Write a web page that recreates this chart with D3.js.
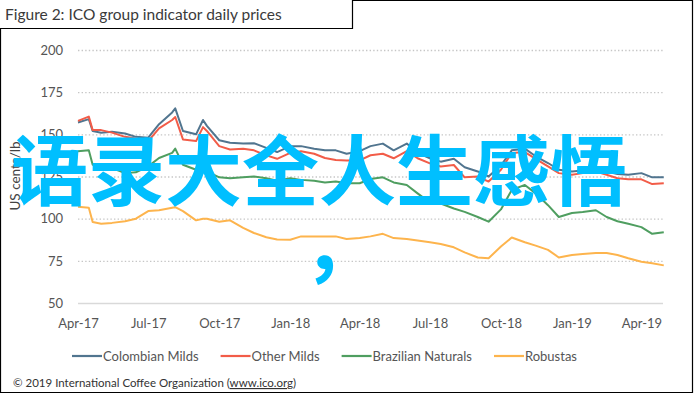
<!DOCTYPE html>
<html>
<head>
<meta charset="utf-8">
<script src="https://cdn.jsdelivr.net/npm/d3@7"></script>
<style>
body { margin: 0; background: #fff; }
svg { display: block; font-family: Lato, "Open Sans", sans-serif; }
</style>
</head>
<body>
<div id="chart"></div>
<script>
// values, US cents/lb
var dates = ["2017-04-01","2017-04-15","2017-04-20","2017-05-01","2017-05-15","2017-06-01","2017-06-15",
    "2017-07-01","2017-07-15","2017-08-01","2017-08-05","2017-08-15","2017-09-01","2017-09-10","2017-09-15",
    "2017-10-01","2017-10-15","2017-11-01","2017-11-15","2017-12-01","2017-12-15","2018-01-01","2018-01-15",
    "2018-02-01","2018-02-15","2018-03-01","2018-03-15","2018-04-01","2018-04-15","2018-05-01","2018-05-15",
    "2018-06-01","2018-06-15","2018-07-01","2018-07-15","2018-08-01","2018-08-15","2018-09-01","2018-09-15",
    "2018-10-01","2018-10-15","2018-11-01","2018-11-15","2018-12-01","2018-12-15","2019-01-01","2019-01-15",
    "2019-02-01","2019-02-15","2019-03-01","2019-03-15","2019-04-01","2019-04-15","2019-04-30"];

var colombian_milds = [157,159,152,151,151.5,150.5,148.5,148,156,163,165.4,152,150,158.5,155,146.5,145,144.5,
    144.7,142,139.5,143,143,141.5,140.5,140.5,138.5,140,143,144.5,140.5,144.5,139,135.8,133.8,135.5,130.5,128,
    125,131.5,140.5,141.5,137,133,129,128,128.5,129,128,126.5,126,127,124.5,124.5];

var other_milds = [158,160.5,152.5,152.5,151,148.5,147.5,146,153.5,158.5,160.3,147,146,154.3,152,143,141,141.5,
    140.5,137.5,135.5,139,140,138.5,136,134.8,134.5,134.6,137.6,138.5,135.8,140,135.8,132.8,130.9,131.8,124.5,125,
    122,129,139,139.5,135.5,131,127,126,127,128,126,124,123.3,123.3,120.5,121];

var brazilian_naturals = [140,140.5,132,131.5,130,127,127.5,131,136,139,141.5,132,129,131,128,124.5,124,124.5,
    125,124,122.5,124,123,122.5,121.5,122,121,121,123.5,124.5,121.5,120,115,109.5,109,106,104,101,98.2,105.5,117,
    120,115,108,101,103.4,104,105,101,98.5,97,95,91,92];

var robustas = [107,106.5,98,97,97.5,98.5,100,104.5,105,106.5,106.8,104.5,99,100,100,98.2,99,94.5,91.5,89,87.7,
    87.5,89.5,89.5,89.5,89.5,88,88.5,89.5,91,88.5,88,87,86,85,83,80,77,76.5,83.5,88.8,86,84,81.5,77,78.5,79,79.7,
    79.7,78.5,76.5,74.5,73.5,72.3];

var series_names = ["Colombian Milds", "Other Milds", "Brazilian Naturals", "Robustas"];
var series_colors = ["#51758f", "#f25c48", "#4f9e60", "#fdb44d"];
var y_ticks = [50, 75, 100, 125, 150, 175, 200];
var x_ticks = ["2017-04-01","2017-07-01","2017-10-01","2018-01-01","2018-04-01","2018-07-01","2018-10-01",
    "2019-01-01","2019-04-01"];

var parse_date = d3.timeParse("%Y-%m-%d");

function draw_chart() {
    var width = 695, height = 394;
    var plot = {left: 78, right: 663, top: 50, bottom: 303};

    var svg = d3.select("#chart").append("svg")
        .attr("width", width)
        .attr("height", height);

    svg.append("rect")
        .attr("width", width)
        .attr("height", height)
        .attr("fill", "#fff");

    // frame round the figure, title sits above its left part
    svg.append("path")
        .attr("d", "M0.5,392.5 L0.5,28.5 L352.5,28.5 L352.5,0.5 L692.5,0.5 L692.5,392.5 Z")
        .attr("fill", "none")
        .attr("stroke", "#000")
        .attr("stroke-width", 1.2);

    svg.append("text")
        .attr("x", 5)
        .attr("y", 20)
        .attr("font-size", 15.5)
        .attr("fill", "#3a3a3a")
        .text("Figure 2: ICO group indicator daily prices");

    var x = d3.scaleTime()
        .domain([parse_date("2017-04-01"), parse_date("2019-04-29")])
        .range([plot.left, plot.right]);

    var y = d3.scaleLinear()
        .domain([50, 200])
        .range([plot.bottom, plot.top]);

    var y_axis = svg.append("g")
        .attr("transform", "translate(" + plot.left + ",0)")
        .call(d3.axisLeft(y)
            .tickValues(y_ticks)
            .tickSize(-(plot.right - plot.left))
            .tickPadding(15));

    y_axis.select(".domain").remove();
    y_axis.selectAll(".tick line")
        .attr("stroke-width", 1.3)
        .attr("stroke-dasharray", function(d) { return d === 50 ? null : "1.4,2.2"; })
        .attr("stroke", function(d) { return d === 50 ? "#d9d9d9" : "#c6c6c6"; });
    y_axis.selectAll(".tick text")
        .attr("font-family", "Lato, sans-serif")
        .attr("font-size", 13)
        .attr("fill", "#555");

    var x_axis = svg.append("g")
        .attr("transform", "translate(0," + plot.bottom + ")")
        .call(d3.axisBottom(x)
            .tickValues(x_ticks.map(parse_date))
            .tickSize(0)
            .tickPadding(16)
            .tickFormat(d3.timeFormat("%b-%y")));

    x_axis.select(".domain").remove();
    x_axis.selectAll(".tick text")
        .attr("font-family", "Lato, sans-serif")
        .attr("font-size", 13)
        .attr("fill", "#555");

    svg.append("text")
        .attr("transform", "translate(20,176)rotate(-90)")
        .attr("text-anchor", "middle")
        .attr("font-size", 13.5)
        .attr("fill", "#444")
        .text("US cents/lb");

    var all_series = [colombian_milds, other_milds, brazilian_naturals, robustas];

    var line = d3.line()
        .x(function(d) { return x(d.date); })
        .y(function(d) { return y(d.value); });

    // draw back to front so Colombian Milds ends up on top of Other Milds
    [3, 2, 0, 1].forEach(function(i) {
        var points = dates.map(function(d, j) {
            return {date: parse_date(d), value: all_series[i][j]};
        });
        svg.append("path")
            .datum(points)
            .attr("fill", "none")
            .attr("stroke", series_colors[i])
            .attr("stroke-width", 2)
            .attr("stroke-linejoin", "round")
            .attr("d", line);
    });

    // legend, laid out left to right
    var legend = svg.append("g").attr("transform", "translate(0,356)");
    var lx = 72;
    series_names.forEach(function(name, i) {
        legend.append("line")
            .attr("x1", lx).attr("x2", lx + 30)
            .attr("y1", 0).attr("y2", 0)
            .attr("stroke", series_colors[i])
            .attr("stroke-width", 2.2);
        var t = legend.append("text")
            .attr("x", lx + 31)
            .attr("y", 4.5)
            .attr("font-size", 13)
            .attr("fill", "#555")
            .text(name);
        lx += 31 + t.node().getComputedTextLength() + 22;
    });

    var footer = svg.append("text")
        .attr("x", 13)
        .attr("y", 387)
        .attr("font-size", 11.5)
        .attr("fill", "#333")
        .text("\u00a9 2019 International Coffee Organization (");
    footer.append("tspan")
        .attr("text-decoration", "underline")
        .text("www.ico.org");
    footer.append("tspan").text(")");

    // overlay text stamped across the picture
    var stamp = svg.append("g")
        .attr("font-family", "'Noto Sans CJK SC', sans-serif")
        .attr("font-weight", 700)
        .attr("fill", "#00bfff");
    stamp.append("text")
        .attr("x", 11)
        .attr("y", 200)
        .attr("font-size", 77)
        .text("语录大全人生感悟");
    stamp.append("text")
        .attr("x", 303)
        .attr("y", 274)
        .attr("font-size", 77)
        .text("，");
}

draw_chart();
</script>
</body>
</html>
